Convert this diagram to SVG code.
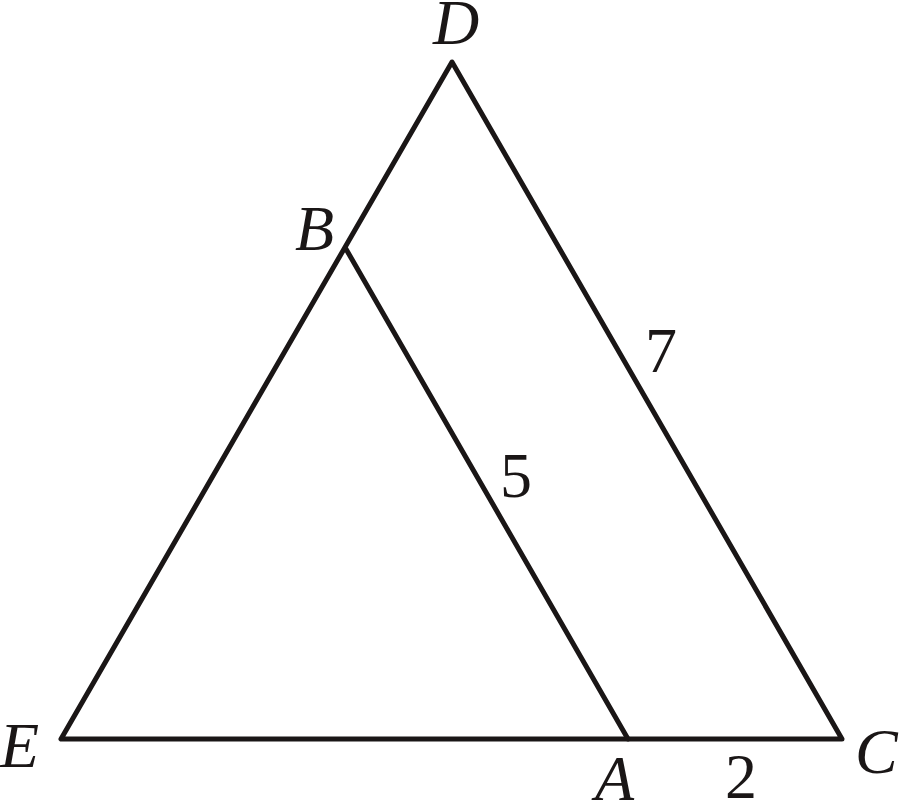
<svg xmlns="http://www.w3.org/2000/svg" width="901" height="801" viewBox="0 0 901 801">
<style>
.l{font-family:"Liberation Serif","Times New Roman",serif;font-size:64px;fill:#1a1616}
.i{font-style:italic}
.s{fill:none;stroke:#1a1616;stroke-width:5;stroke-linejoin:round;stroke-linecap:round}
</style>
<rect width="901" height="801" fill="#fff"/>
<g id="connectors">
<polygon class="s" points="452,62 61,739 842,739"/>
<line class="s" x1="346" y1="249" x2="628" y2="739"/>
</g>
<g id="D"><text class="l i" x="433" y="44">D</text></g>
<g id="B"><text class="l i" x="295" y="250">B</text></g>
<g id="E"><text class="l i" x="0" y="767">E</text></g>
<g id="A"><text class="l i" x="595" y="800">A</text></g>
<g id="C"><text class="l i" x="855" y="773">C</text></g>
<g id="n7"><text class="l" x="645" y="372">7</text></g>
<g id="n5"><text class="l" x="500" y="497">5</text></g>
<g id="n2"><text class="l" x="725" y="798">2</text></g>
</svg>
